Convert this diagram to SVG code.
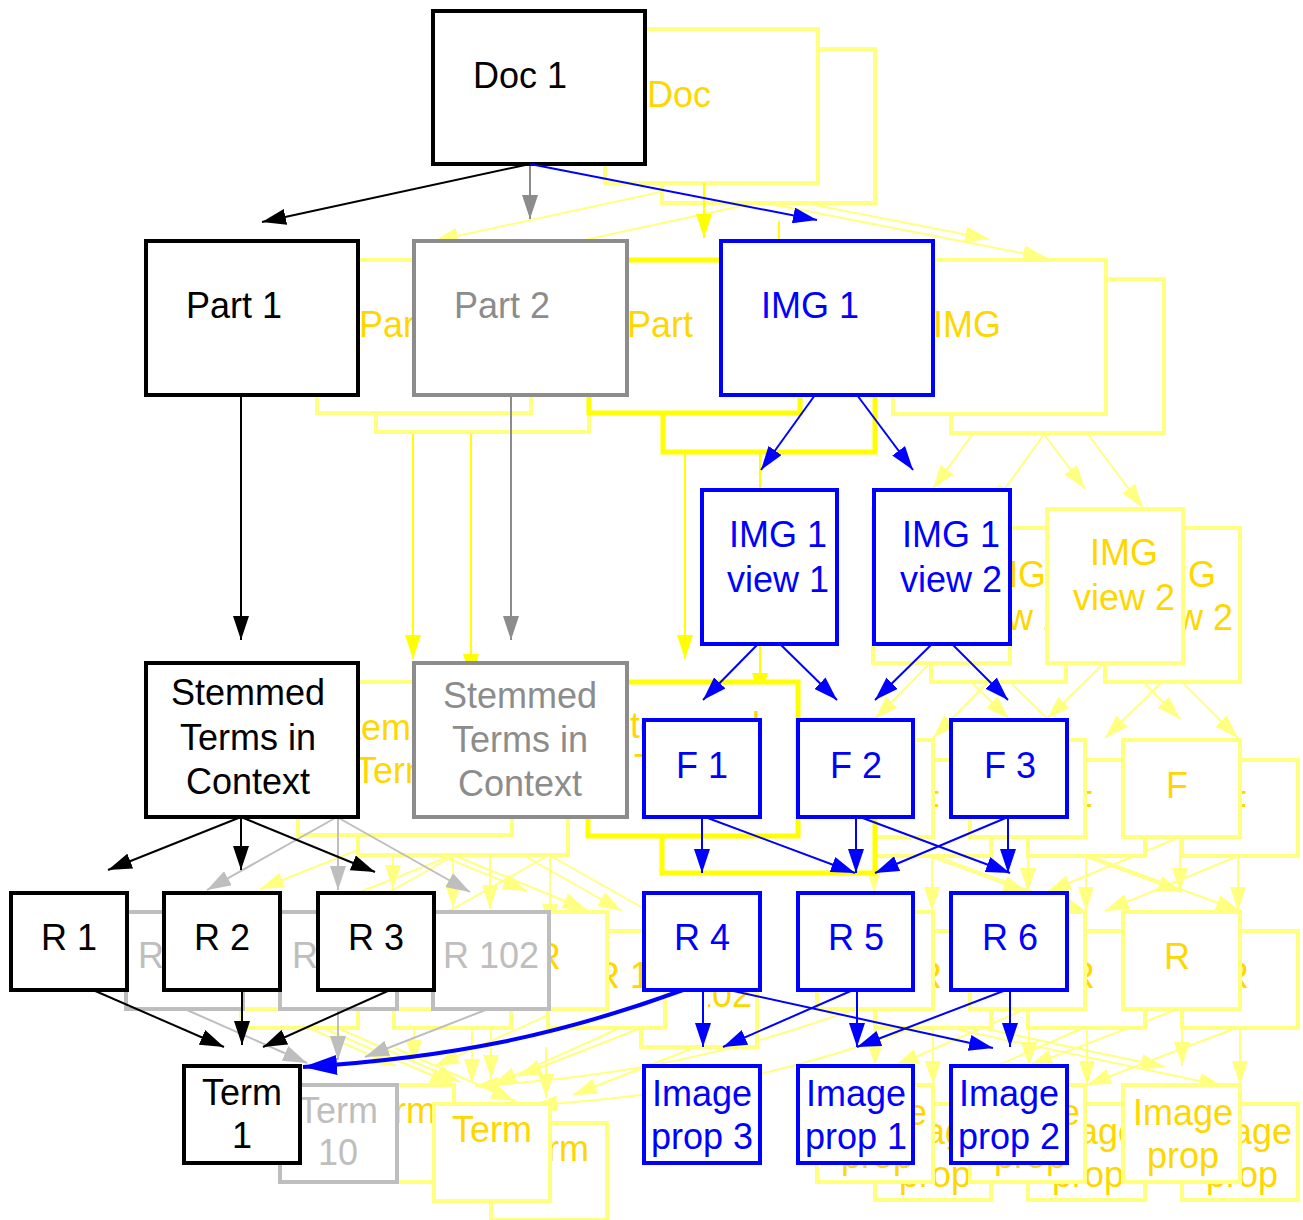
<svg xmlns="http://www.w3.org/2000/svg" width="1303" height="1220" viewBox="0 0 1303 1220">
<style>
text{font-family:"Liberation Sans",Arial,sans-serif;font-size:36px}
.m{text-anchor:middle}
.np{fill:#fff;stroke:#ffff80;stroke-width:4}
.ny{fill:#fff;stroke:#ffff00;stroke-width:5}
.ng{fill:#fff;stroke:#8c8c8c;stroke-width:4}
.nl{fill:#fff;stroke:#bebebe;stroke-width:4}
.nk{fill:#fff;stroke:#000;stroke-width:4}
.nb{fill:#fff;stroke:#00f;stroke-width:4}
.tp{fill:#ffd700}.tg{fill:#8c8c8c}.tl{fill:#bebebe}.tk{fill:#000}.tb{fill:#00f}
.ep{stroke:#ffff80;stroke-width:2;fill:none;marker-end:url(#mp)}
.ey{stroke:#ffff00;stroke-width:2;fill:none;marker-end:url(#my)}
.eg{stroke:#8c8c8c;stroke-width:2;fill:none;marker-end:url(#mg)}
.el{stroke:#bebebe;stroke-width:2;fill:none;marker-end:url(#ml)}
.ek{stroke:#000;stroke-width:2;fill:none;marker-end:url(#mk)}
.eb{stroke:#00f;stroke-width:2;fill:none;marker-end:url(#mb)}
</style>
<defs>
<marker id="mp" viewBox="0 0 24 16" refX="24" refY="8" markerWidth="24" markerHeight="16" markerUnits="userSpaceOnUse" orient="auto"><path d="M0,0L24,8L0,16z" fill="#ffff80"/></marker>
<marker id="my" viewBox="0 0 24 16" refX="24" refY="8" markerWidth="24" markerHeight="16" markerUnits="userSpaceOnUse" orient="auto"><path d="M0,0L24,8L0,16z" fill="#ffff00"/></marker>
<marker id="mg" viewBox="0 0 24 16" refX="24" refY="8" markerWidth="24" markerHeight="16" markerUnits="userSpaceOnUse" orient="auto"><path d="M0,0L24,8L0,16z" fill="#8c8c8c"/></marker>
<marker id="ml" viewBox="0 0 24 16" refX="24" refY="8" markerWidth="24" markerHeight="16" markerUnits="userSpaceOnUse" orient="auto"><path d="M0,0L24,8L0,16z" fill="#bebebe"/></marker>
<marker id="mk" viewBox="0 0 24 16" refX="24" refY="8" markerWidth="24" markerHeight="16" markerUnits="userSpaceOnUse" orient="auto"><path d="M0,0L24,8L0,16z" fill="#000"/></marker>
<marker id="mb" viewBox="0 0 24 16" refX="24" refY="8" markerWidth="24" markerHeight="16" markerUnits="userSpaceOnUse" orient="auto"><path d="M0,0L24,8L0,16z" fill="#00f"/></marker>
<marker id="mbb" viewBox="0 0 34 20" refX="34" refY="10" markerWidth="34" markerHeight="20" markerUnits="userSpaceOnUse" orient="auto"><path d="M0,0L34,10L0,20z" fill="#00f"/></marker>
<clipPath id="c02"><rect x="708" y="950" width="60" height="97"/></clipPath>
</defs>

<g id="pale-edges">
<line class="ep" x1="702" y1="183" x2="434" y2="241"/>
<line class="ep" x1="760" y1="202" x2="492" y2="260"/>
<line class="ep" x1="702" y1="183" x2="989" y2="239"/>
<line class="ep" x1="760" y1="202" x2="1047" y2="258"/>
<line class="ey" x1="413" y1="414" x2="413" y2="659"/>
<line class="ey" x1="471" y1="433" x2="471" y2="678"/>
<line class="ep" x1="393" y1="836" x2="260" y2="889"/>
<line class="ep" x1="393" y1="836" x2="393" y2="889"/>
<line class="ep" x1="393" y1="836" x2="527" y2="891"/>
<line class="ep" x1="489" y1="836" x2="359" y2="909"/>
<line class="ep" x1="490" y1="836" x2="490" y2="909"/>
<line class="ep" x1="489" y1="836" x2="622" y2="911"/>
<line class="ep" x1="453" y1="855" x2="320" y2="908"/>
<line class="ep" x1="453" y1="855" x2="453" y2="908"/>
<line class="ep" x1="453" y1="855" x2="587" y2="910"/>
<line class="ep" x1="549" y1="855" x2="419" y2="928"/>
<line class="ep" x1="550" y1="855" x2="550" y2="928"/>
<line class="ep" x1="549" y1="855" x2="682" y2="930"/>
<line class="ep" x1="265" y1="1009" x2="396" y2="1066"/>
<line class="ep" x1="414" y1="1009" x2="414" y2="1064"/>
<line class="ep" x1="562" y1="1009" x2="435" y2="1066"/>
<line class="ep" x1="323" y1="1028" x2="454" y2="1085"/>
<line class="ep" x1="472" y1="1028" x2="472" y2="1083"/>
<line class="ep" x1="620" y1="1028" x2="493" y2="1085"/>
<line class="ep" x1="340" y1="1029" x2="460" y2="1082"/>
<line class="ep" x1="395" y1="1048" x2="515" y2="1101"/>
<line class="ep" x1="491" y1="1028" x2="491" y2="1079"/>
<line class="ep" x1="546" y1="1047" x2="546" y2="1098"/>
<line class="ep" x1="641" y1="1028" x2="518" y2="1076"/>
<line class="ep" x1="696" y1="1047" x2="573" y2="1095"/>
<line class="ep" x1="987" y1="414" x2="933" y2="489"/>
<line class="ep" x1="1045" y1="433" x2="991" y2="508"/>
<line class="ep" x1="1029" y1="414" x2="1085" y2="489"/>
<line class="ep" x1="1087" y1="433" x2="1143" y2="508"/>
<line class="ep" x1="930" y1="663" x2="875" y2="719"/>
<line class="ep" x1="988" y1="682" x2="933" y2="738"/>
<line class="ep" x1="952" y1="663" x2="1009" y2="719"/>
<line class="ep" x1="1010" y1="682" x2="1067" y2="738"/>
<line class="ep" x1="1104" y1="663" x2="1047" y2="719"/>
<line class="ep" x1="1162" y1="682" x2="1105" y2="738"/>
<line class="ep" x1="1124" y1="663" x2="1180" y2="719"/>
<line class="ep" x1="1182" y1="682" x2="1238" y2="738"/>
<line class="ep" x1="874" y1="836" x2="874" y2="892"/>
<line class="ep" x1="932" y1="855" x2="932" y2="911"/>
<line class="ep" x1="877" y1="837" x2="1027" y2="892"/>
<line class="ep" x1="935" y1="856" x2="1085" y2="911"/>
<line class="ep" x1="1028" y1="836" x2="1028" y2="892"/>
<line class="ep" x1="1086" y1="855" x2="1086" y2="911"/>
<line class="ep" x1="1032" y1="837" x2="1182" y2="892"/>
<line class="ep" x1="1090" y1="856" x2="1240" y2="911"/>
<line class="ep" x1="1180" y1="837" x2="1047" y2="892"/>
<line class="ep" x1="1238" y1="856" x2="1105" y2="911"/>
<line class="ep" x1="1180" y1="836" x2="1180" y2="892"/>
<line class="ep" x1="1238" y1="855" x2="1238" y2="911"/>
<line class="ep" x1="875" y1="1009" x2="875" y2="1066"/>
<line class="ep" x1="933" y1="1028" x2="933" y2="1085"/>
<line class="ep" x1="901" y1="1011" x2="1165" y2="1067"/>
<line class="ep" x1="959" y1="1030" x2="1223" y2="1086"/>
<line class="ep" x1="1029" y1="1009" x2="1029" y2="1066"/>
<line class="ep" x1="1087" y1="1028" x2="1087" y2="1085"/>
<line class="ep" x1="1025" y1="1009" x2="895" y2="1066"/>
<line class="ep" x1="1083" y1="1028" x2="953" y2="1085"/>
<line class="ep" x1="1182" y1="1009" x2="1182" y2="1066"/>
<line class="ep" x1="1240" y1="1028" x2="1240" y2="1085"/>
<line class="ep" x1="1178" y1="1009" x2="1029" y2="1066"/>
<line class="ep" x1="1236" y1="1028" x2="1087" y2="1085"/>
<path class="ep" d="M855,1009 C732,1054 622,1077 475,1086"/>
<path class="ep" d="M913,1028 C790,1073 680,1096 533,1105"/>
</g>

<g id="ghost-doc"><rect class="np" x="662" y="49" width="213" height="154"/><rect class="np" x="605" y="29" width="213" height="154"/><text class="tp" x="647" y="107">Doc</text></g>
<g id="ghost-part"><rect class="np" x="376" y="279" width="213" height="153"/><rect class="np" x="317" y="260" width="214" height="153"/><text class="tp" x="359" y="337">Part</text></g>
<g id="ghost-img"><rect class="np" x="951" y="279" width="213" height="154"/><rect class="np" x="893" y="260" width="213" height="154"/><text class="tp" x="933" y="337">IMG</text></g>
<g id="ghost-stem"><rect class="np" x="358" y="701" width="210" height="154"/><rect class="np" x="298" y="682" width="214" height="153"/><text class="tp m" x="404" y="740">Stemmed</text><text class="tp m" x="404" y="783">Terms</text></g>
<g id="ghost-views">
<rect class="np" x="931" y="528" width="135" height="154"/><text class="tp m" x="1012" y="587">IMG</text><text class="tp m" x="1012" y="630">view 2</text>
<rect class="np" x="1105" y="528" width="135" height="154"/><text class="tp m" x="1182" y="587">IMG</text><text class="tp m" x="1182" y="630">view 2</text>
<rect class="np" x="873" y="509" width="137" height="154"/>
<rect class="np" x="1047" y="509" width="136" height="154"/><text class="tp m" x="1124" y="565">IMG</text><text class="tp m" x="1124" y="610">view 2</text>
</g>
<g id="ghost-f">
<rect class="np" x="875" y="760" width="116" height="96"/><text class="tp m" x="929" y="817">F</text>
<rect class="np" x="1028" y="760" width="117" height="96"/><text class="tp m" x="1082" y="817">F</text>
<rect class="np" x="1182" y="760" width="116" height="96"/><text class="tp m" x="1236" y="817">F</text>
<rect class="np" x="817" y="740" width="116" height="97"/>
<rect class="np" x="970" y="740" width="115" height="97"/>
<rect class="np" x="1123" y="740" width="117" height="97"/><text class="tp m" x="1177" y="798">F</text>
</g>
<g id="ghost-r-right">
<rect class="np" x="875" y="931" width="116" height="97"/><text class="tp m" x="929" y="988">R</text>
<rect class="np" x="1028" y="931" width="117" height="97"/><text class="tp m" x="1082" y="988">R</text>
<rect class="np" x="1182" y="931" width="116" height="97"/><text class="tp m" x="1236" y="988">R</text>
<rect class="np" x="817" y="912" width="116" height="97"/>
<rect class="np" x="970" y="912" width="115" height="97"/>
<rect class="np" x="1123" y="912" width="117" height="97"/><text class="tp m" x="1177" y="969">R</text>
</g>
<g id="ghost-r-left">
<rect class="np" x="641" y="950" width="116" height="97"/><text class="tp" x="752" y="1007" text-anchor="end" clip-path="url(#c02)">R 102</text>
<rect class="np" x="241" y="931" width="117" height="97"/>
<rect class="np" x="394" y="931" width="117" height="97"/>
<rect class="np" x="548" y="931" width="117" height="97"/><text class="tp m" x="622" y="988">R 1</text>
<rect class="np" x="183" y="912" width="117" height="97"/>
<rect class="np" x="336" y="912" width="117" height="97"/>
<rect class="np" x="490" y="912" width="117" height="97"/><text class="tp m" x="548" y="969">R</text>
</g>
<g id="ghost-term">
<rect class="np" x="491" y="1123" width="116" height="97"/><text class="tp m" x="549" y="1161">Term</text>
<rect class="np" x="338" y="1085" width="116" height="97"/><text class="tp m" x="396" y="1123">Term</text>
<rect class="np" x="434" y="1104" width="116" height="97"/><text class="tp m" x="492" y="1142">Term</text>
</g>
<g id="ghost-ip">
<rect class="np" x="875" y="1104" width="116" height="96"/><text class="tp m" x="935" y="1144">Image</text><text class="tp m" x="935" y="1187">prop</text>
<rect class="np" x="1028" y="1104" width="117" height="96"/><text class="tp m" x="1088" y="1144">Image</text><text class="tp m" x="1088" y="1187">prop</text>
<rect class="np" x="1182" y="1104" width="116" height="96"/><text class="tp m" x="1242" y="1144">Image</text><text class="tp m" x="1242" y="1187">prop</text>
<rect class="np" x="817" y="1085" width="116" height="97"/><text class="tp m" x="877" y="1125">Image</text><text class="tp m" x="877" y="1168">prop</text>
<rect class="np" x="970" y="1085" width="115" height="97"/><text class="tp m" x="1030" y="1125">Image</text><text class="tp m" x="1030" y="1168">prop</text>
<rect class="np" x="1123" y="1085" width="117" height="97"/><text class="tp m" x="1183" y="1125">Image</text><text class="tp m" x="1183" y="1168">prop</text>
</g>

<g id="bright-edges">
<line class="ey" x1="704" y1="183" x2="704" y2="238"/>
<line class="ey" x1="779" y1="221" x2="779" y2="276"/>
<line class="ey" x1="685" y1="414" x2="685" y2="659"/>
<line class="ey" x1="760" y1="452" x2="760" y2="697"/>
</g>
<g id="ghost-part-b"><rect class="ny" x="663" y="298" width="212" height="154"/><rect class="ny" x="589" y="260" width="211" height="153"/><text class="tp" x="627" y="337">Part</text></g>
<g id="ghost-stem-b"><rect class="ny" x="662" y="720" width="213" height="153"/><rect class="ny" x="588" y="682" width="210" height="154"/><text class="tp m" x="683" y="738">Stemmed</text><text class="tp m" x="683" y="780">Terms</text></g>

<g id="gray-edges">
<line class="eg" x1="530" y1="164" x2="530" y2="219"/>
<line class="eg" x1="511" y1="395" x2="511" y2="640"/>
<line class="el" x1="337" y1="817" x2="207" y2="890"/>
<line class="el" x1="338" y1="817" x2="338" y2="890"/>
<line class="el" x1="337" y1="817" x2="470" y2="892"/>
<line class="el" x1="187" y1="1010" x2="307" y2="1063"/>
<line class="el" x1="338" y1="1009" x2="338" y2="1060"/>
<line class="el" x1="488" y1="1009" x2="365" y2="1057"/>
</g>
<g id="part2"><rect class="ng" x="414" y="241" width="213" height="154"/><text class="tg" x="454" y="318">Part 2</text></g>
<g id="stem2"><rect class="ng" x="414" y="663" width="213" height="154"/><text class="tg m" x="520" y="708">Stemmed</text><text class="tg m" x="520" y="752">Terms in</text><text class="tg m" x="520" y="796">Context</text></g>
<g id="r100"><rect class="nl" x="126" y="912" width="117" height="97"/><text class="tl" x="138" y="968">R</text></g>
<g id="r101"><rect class="nl" x="280" y="912" width="117" height="97"/><text class="tl" x="292" y="968">R</text></g>
<g id="r102"><rect class="nl" x="433" y="912" width="116" height="97"/><text class="tl m" x="491" y="968">R 102</text></g>
<g id="term10"><rect class="nl" x="280" y="1085" width="117" height="97"/><text class="tl m" x="338" y="1123">Term</text><text class="tl m" x="338" y="1165">10</text></g>

<g id="doc1"><rect class="nk" x="433" y="11" width="212" height="153"/><text class="tk" x="473" y="88">Doc 1</text></g>
<g id="part1"><rect class="nk" x="146" y="241" width="212" height="154"/><text class="tk" x="186" y="318">Part 1</text></g>
<g id="stem1"><rect class="nk" x="146" y="663" width="212" height="154"/><text class="tk m" x="248" y="705">Stemmed</text><text class="tk m" x="248" y="750">Terms in</text><text class="tk m" x="248" y="794">Context</text></g>
<g id="r1"><rect class="nk" x="11" y="893" width="116" height="97"/><text class="tk m" x="69" y="950">R 1</text></g>
<g id="r2"><rect class="nk" x="164" y="893" width="116" height="97"/><text class="tk m" x="222" y="950">R 2</text></g>
<g id="r3"><rect class="nk" x="318" y="893" width="116" height="97"/><text class="tk m" x="376" y="950">R 3</text></g>
<g id="term1"><rect class="nk" x="184" y="1066" width="116" height="97"/><text class="tk m" x="242" y="1105">Term</text><text class="tk m" x="242" y="1148">1</text></g>

<g id="img1"><rect class="nb" x="721" y="241" width="212" height="154"/><text class="tb" x="761" y="318">IMG 1</text></g>
<g id="view1"><rect class="nb" x="702" y="490" width="135" height="154"/><text class="tb m" x="778" y="547">IMG 1</text><text class="tb m" x="778" y="592">view 1</text></g>
<g id="view2"><rect class="nb" x="874" y="490" width="136" height="154"/><text class="tb m" x="951" y="547">IMG 1</text><text class="tb m" x="951" y="592">view 2</text></g>
<g id="f1"><rect class="nb" x="644" y="720" width="116" height="97"/><text class="tb m" x="702" y="778">F 1</text></g>
<g id="f2"><rect class="nb" x="798" y="720" width="115" height="97"/><text class="tb m" x="856" y="778">F 2</text></g>
<g id="f3"><rect class="nb" x="951" y="720" width="116" height="97"/><text class="tb m" x="1010" y="778">F 3</text></g>
<g id="r4"><rect class="nb" x="644" y="893" width="116" height="97"/><text class="tb m" x="702" y="950">R 4</text></g>
<g id="r5"><rect class="nb" x="798" y="893" width="115" height="97"/><text class="tb m" x="856" y="950">R 5</text></g>
<g id="r6"><rect class="nb" x="951" y="893" width="116" height="97"/><text class="tb m" x="1010" y="950">R 6</text></g>
<g id="ip3"><rect class="nb" x="644" y="1066" width="116" height="97"/><text class="tb m" x="702" y="1106">Image</text><text class="tb m" x="702" y="1149">prop 3</text></g>
<g id="ip1"><rect class="nb" x="798" y="1066" width="115" height="97"/><text class="tb m" x="856" y="1106">Image</text><text class="tb m" x="856" y="1149">prop 1</text></g>
<g id="ip2"><rect class="nb" x="951" y="1066" width="116" height="97"/><text class="tb m" x="1009" y="1106">Image</text><text class="tb m" x="1009" y="1149">prop 2</text></g>

<g id="edges">
<line class="ek" x1="530" y1="164" x2="262" y2="222"/>
<line class="ek" x1="241" y1="395" x2="241" y2="640"/>
<line class="ek" x1="241" y1="817" x2="108" y2="870"/>
<line class="ek" x1="241" y1="817" x2="241" y2="870"/>
<line class="ek" x1="241" y1="817" x2="375" y2="872"/>
<line class="ek" x1="93" y1="990" x2="224" y2="1047"/>
<line class="ek" x1="242" y1="990" x2="242" y2="1045"/>
<line class="ek" x1="390" y1="990" x2="263" y2="1047"/>
<line class="eb" x1="530" y1="164" x2="817" y2="220"/>
<line class="eb" x1="815" y1="395" x2="761" y2="470"/>
<line class="eb" x1="857" y1="395" x2="913" y2="470"/>
<line class="eb" x1="758" y1="644" x2="703" y2="700"/>
<line class="eb" x1="780" y1="644" x2="837" y2="700"/>
<line class="eb" x1="932" y1="644" x2="875" y2="700"/>
<line class="eb" x1="952" y1="644" x2="1008" y2="700"/>
<line class="eb" x1="702" y1="817" x2="702" y2="873"/>
<line class="eb" x1="705" y1="817" x2="855" y2="873"/>
<line class="eb" x1="856" y1="817" x2="856" y2="873"/>
<line class="eb" x1="860" y1="817" x2="1010" y2="873"/>
<line class="eb" x1="1008" y1="817" x2="875" y2="873"/>
<line class="eb" x1="1008" y1="817" x2="1008" y2="873"/>
<line class="eb" x1="703" y1="990" x2="703" y2="1047"/>
<line class="eb" x1="729" y1="990" x2="993" y2="1048"/>
<line class="eb" x1="857" y1="990" x2="857" y2="1047"/>
<line class="eb" x1="853" y1="990" x2="723" y2="1047"/>
<line class="eb" x1="1010" y1="990" x2="1010" y2="1047"/>
<line class="eb" x1="1006" y1="990" x2="857" y2="1047"/>
<path d="M683,990 C560,1035 450,1058 303,1067" fill="none" stroke="#00f" stroke-width="4" marker-end="url(#mbb)"/>
</g>
</svg>
